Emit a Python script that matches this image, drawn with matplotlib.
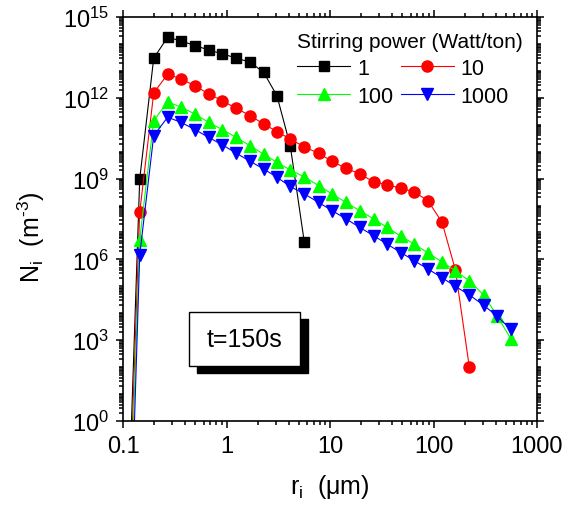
import numpy as np
import matplotlib
matplotlib.use('Agg')
import matplotlib.pyplot as plt
from matplotlib.patches import Rectangle
from matplotlib.ticker import FixedLocator, LogLocator, NullFormatter

plt.rcParams['font.family'] = ['Liberation Sans', 'DejaVu Sans']
plt.rcParams['mathtext.fontset'] = 'custom'
plt.rcParams['mathtext.rm'] = 'Liberation Sans'
plt.rcParams['mathtext.it'] = 'Liberation Sans'
plt.rcParams['mathtext.default'] = 'regular'

# particle radius classes (um)
r = [0.107, 0.145, 0.198, 0.270, 0.363, 0.496, 0.671, 0.911, 1.235, 1.687,
     2.28, 3.07, 4.13, 5.65, 7.77, 10.45, 14.28, 19.33, 26.4, 35.5,
     48.5, 65.2, 88.4, 120.8, 162.5, 221.8, 304.8, 411, 561]

# number density per class (m^-3) for each stirring power
n_1 = [1e-6, 9.5e8, 2.95e13, 1.78e14, 1.29e14, 8.7e13, 6.0e13, 4.3e13,
       3.0e13, 2.1e13, 8.9e12, 1.2e12, 1.66e10, 4.3e6]
n_10 = [1e-7, 5.6e7, 1.5e12, 7.6e12, 5.0e12, 2.8e12, 1.4e12, 7.8e11, 4.1e11,
        2.2e11, 1.07e11, 5.6e10, 2.95e10, 1.5e10, 8.7e9, 4.4e9, 2.4e9, 1.5e9,
        7.6e8, 5.9e8, 4.4e8, 3.2e8, 1.5e8, 2.4e7, 4.2e5, 102]
n_100 = [1e-8, 5.4e6, 1.4e11, 7.1e11, 4.5e11, 2.5e11, 1.23e11, 6.6e10, 3.4e10,
         1.66e10, 8.1e9, 4.0e9, 2.1e9, 1.15e9, 5.5e8, 2.7e8, 1.3e8, 6.5e7,
         3.2e7, 1.55e7, 7.2e6, 3.7e6, 1.74e6, 8.1e5, 3.8e5, 1.6e5, 4.8e4,
         8.1e3, 1.1e3]
n_1000 = [1e-10, 1.45e6, 3.9e10, 1.9e11, 1.23e11, 6.6e10, 3.4e10, 1.8e10,
          8.9e9, 4.4e9, 2.3e9, 1.12e9, 5.1e8, 2.7e8, 1.3e8, 6.5e7, 3.2e7,
          1.55e7, 7.6e6, 3.7e6, 1.8e6, 8.9e5, 4.4e5, 2.1e5, 1.0e5, 4.8e4,
          2.0e4, 7.8e3, 2.5e3]

x_ticks = [0.1, 1, 10, 100, 1000]
x_labels = ['0.1', '1', '10', '100', '1000']
y_ticks = [1e0, 1e3, 1e6, 1e9, 1e12, 1e15]
y_labels = ['$10^{0}$', '$10^{3}$', '$10^{6}$', '$10^{9}$', '$10^{12}$', '$10^{15}$']

fig = plt.figure(figsize=(5.7, 5.1), dpi=100)
ax = fig.add_axes([123 / 570, 1 - 422 / 510, 414 / 570, 404 / 510])

ms = 7.5
h1, = ax.plot(r[:len(n_1)], n_1, '-s', color='black', lw=0.8, ms=ms, label='1')
h10, = ax.plot(r[:len(n_10)], n_10, '-o', color='#ff0000', lw=0.8, ms=ms + 0.5, label='10')
h100, = ax.plot(r[:len(n_100)], n_100, '-^', color='#00ff00', lw=0.8, ms=ms + 0.5, label='100')
h1000, = ax.plot(r[:len(n_1000)], n_1000, '-v', color='#0000ff', lw=0.8, ms=ms + 0.5, label='1000')

ax.set_xscale('log')
ax.set_yscale('log')
ax.set_xlim(0.1, 1000)
ax.set_ylim(1, 1e15)

ax.xaxis.set_major_locator(FixedLocator(x_ticks))
ax.set_xticklabels(x_labels)
ax.xaxis.set_minor_locator(LogLocator(base=10, subs=np.arange(2, 10)))
ax.xaxis.set_minor_formatter(NullFormatter())

ax.yaxis.set_major_locator(FixedLocator(y_ticks))
ax.set_yticklabels(y_labels)
ax.yaxis.set_minor_locator(LogLocator(base=10, subs=np.arange(1, 10), numticks=40))
ax.yaxis.set_minor_formatter(NullFormatter())

ax.tick_params(which='both', labelsize=17, width=1.1)
ax.tick_params(which='major', length=5, direction='out')
ax.tick_params(which='minor', length=3, direction='out')
ax.tick_params(axis='y', which='major', pad=5)
ax.tick_params(axis='x', which='major', pad=5)
ax.tick_params(which='both', top=True, right=True)
for s in ax.spines.values():
    s.set_linewidth(1.2)

ax.set_xlabel(r'r$_i$  ($\mu$m)', fontsize=18, labelpad=11)
ax.set_ylabel('N$_i$  (m$^{\u2010 3}$)', fontsize=18)
ax.yaxis.set_label_coords(-0.184, 0.458)

leg = ax.legend([h1, h100, h10, h1000], ['1', '100', '10', '1000'], ncol=2,
                title='Stirring power (Watt/ton)', title_fontsize=15,
                fontsize=15.5, frameon=False, loc='upper left',
                bbox_to_anchor=(297 / 570, 1 - 33 / 510),
                bbox_transform=fig.transFigure, borderpad=0, borderaxespad=0,
                handlelength=2.47, handletextpad=0.33, columnspacing=0.33,
                labelspacing=0.32, alignment='left')

# t=150s box with drop shadow
bx, by, bw, bh = 189, 367, 111, 54
fig.patches.append(Rectangle(((bx + 8) / 570, 1 - (by + 7) / 510), bw / 570, bh / 510,
                             transform=fig.transFigure, facecolor='black',
                             edgecolor='black', zorder=5))
fig.patches.append(Rectangle((bx / 570, 1 - by / 510), bw / 570, bh / 510,
                             transform=fig.transFigure, facecolor='white',
                             edgecolor='black', lw=1, zorder=6))
fig.text((bx + bw / 2) / 570, 1 - (by - bh / 2) / 510, 't=150s', fontsize=18,
         ha='center', va='center', zorder=7)

fig.savefig('out.png', dpi=100)
